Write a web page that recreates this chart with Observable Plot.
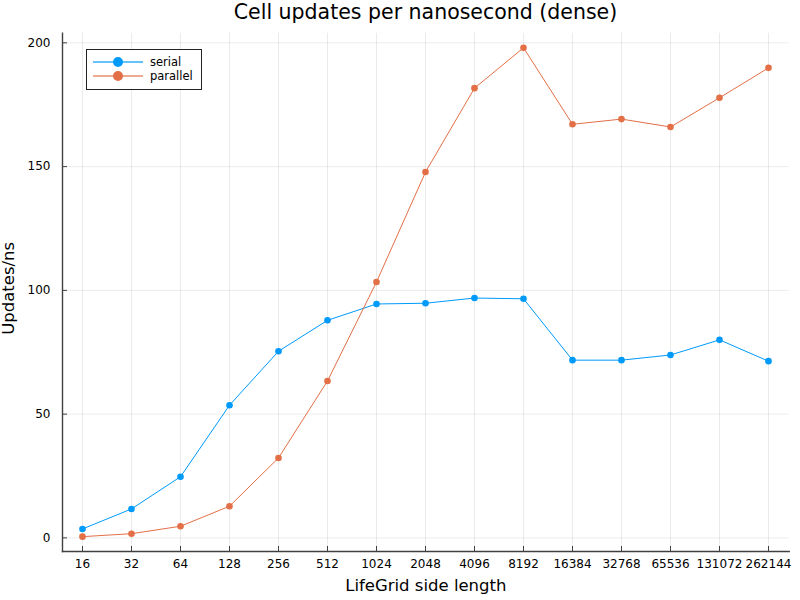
<!DOCTYPE html>
<html>
<head>
<meta charset="utf-8">
<script src="https://cdn.jsdelivr.net/npm/d3@7"></script>
<script src="https://cdn.jsdelivr.net/npm/@observablehq/plot@0.6"></script>
<style>
  body { margin: 0; background: #fff; font-family: "DejaVu Sans", sans-serif; }
  #chart { position: relative; width: 800px; height: 600px; }
  #title { height: 26px; line-height: 25px; padding-left: 62px; width: 727px;
           text-align: center; font-size: 20.5px; color: #000; }
  #legend { position: absolute; left: 86px; top: 49px; }
</style>
</head>
<body>
<div id="chart">
  <div id="title">Cell updates per nanosecond (dense)</div>
</div>
<script>
const sizes = ["16", "32", "64", "128", "256", "512", "1024", "2048", "4096",
               "8192", "16384", "32768", "65536", "131072", "262144"];
const serial = [3.6, 11.7, 24.7, 53.6, 75.4, 87.9, 94.5, 94.8, 96.9,
                96.6, 71.8, 71.8, 73.9, 80.0, 71.4];
const parallel = [0.5, 1.7, 4.7, 12.8, 32.3, 63.4, 103.4, 147.8, 181.7,
                  198.0, 167.1, 169.2, 166.0, 177.8, 189.9];
const seriesNames = ["serial", "parallel"];
const seriesColors = ["#009AFA", "#E36F47"];
const yTicks = [0, 50, 100, 150, 200];

const rows = sizes.flatMap((s, i) => [
  {size: s, value: serial[i], series: "serial"},
  {size: s, value: parallel[i], series: "parallel"}
]);

const axisColor = "#404040";

const plot = Plot.plot({
  width: 800,
  height: 574,
  marginTop: 6.7,
  marginBottom: 49,
  marginLeft: 62,
  marginRight: 11.3,
  style: {fontFamily: "DejaVu Sans", fontSize: "12px", color: "#000", background: "#fff"},
  x: {type: "point", domain: sizes, padding: 0.415},
  y: {domain: [-5.5, 203.9]},
  color: {domain: seriesNames, range: seriesColors},
  marks: [
    Plot.gridX(sizes, {stroke: "#000", strokeOpacity: 0.08}),
    Plot.gridY(yTicks, {stroke: "#000", strokeOpacity: 0.08}),
    Plot.frame({anchor: "left", stroke: axisColor, strokeWidth: 1.4}),
    Plot.frame({anchor: "bottom", stroke: axisColor, strokeWidth: 1.4}),
    // inward ticks
    Plot.ruleX(sizes, {x: d => d, insetTop: 513.3, stroke: axisColor}),
    Plot.ruleY(yTicks, {y: d => d, insetRight: 721.7, stroke: axisColor}),
    Plot.axisX({tickSize: 0, tickPadding: 8, label: null}),
    Plot.axisY({ticks: yTicks, tickSize: 0, tickPadding: 12, label: null}),
    Plot.line(rows, {x: "size", y: "value", z: "series", stroke: "series", strokeWidth: 1}),
    Plot.dot(rows, {x: "size", y: "value", fill: "series", r: 3.3}),
    Plot.text(["LifeGrid side length"], {frameAnchor: "bottom", lineAnchor: "middle", textAnchor: "middle", dy: 34, fontSize: 16.5}),
    Plot.text(["Updates/ns"], {frameAnchor: "left", lineAnchor: "middle", textAnchor: "middle", dx: -54, dy: -4, rotate: -90, fontSize: 16.5})
  ]
});

const chart = document.getElementById("chart");
chart.appendChild(plot);

// legend box inside the plot area
const leg = d3.select(chart).append("svg")
  .attr("id", "legend")
  .attr("width", 117).attr("height", 42);
leg.append("rect")
  .attr("x", 0.5).attr("y", 0.5).attr("width", 115).attr("height", 40)
  .attr("fill", "#fff").attr("stroke", "#222").attr("stroke-width", 1);
const item = leg.selectAll("g").data(seriesNames).join("g")
  .attr("transform", (d, i) => `translate(0,${13 + i * 14})`);
item.append("line")
  .attr("x1", 7).attr("x2", 57)
  .attr("stroke", (d, i) => seriesColors[i])
  .attr("stroke-opacity", 0.6).attr("stroke-width", 2);
item.append("circle")
  .attr("cx", 32).attr("r", 5)
  .attr("fill", (d, i) => seriesColors[i]);
item.append("text")
  .attr("x", 64).attr("dy", "0.35em")
  .attr("font-size", 11.5).attr("font-family", "DejaVu Sans")
  .text(d => d);
</script>
</body>
</html>
